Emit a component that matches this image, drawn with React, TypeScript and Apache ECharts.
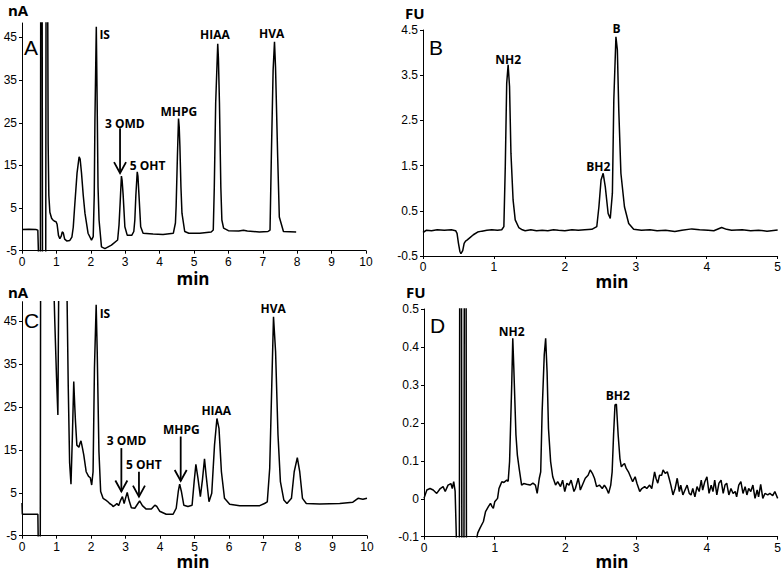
import React, { useEffect, useRef } from "react";
import * as echarts from "echarts";

// ---------- data (time in min, signal in nA / FU) ----------
const traceA: [number, number][] = [
  [0, 0], [0.2, 0.05], [0.4, 0], [0.46, -0.2], [0.47, -0.2], [0.48, -6], [0.535, -6], [0.545, 60],
  [0.585, 60], [0.595, -6], [0.69, -6], [0.7, 60], [0.745, 60], [0.76, 20], [0.78, 8], [0.81, 4],
  [0.86, 2.6], [0.9, 2.2], [0.95, 1.9], [0.99, 1.8], [1.02, 1.2], [1.06, -1.4], [1.1, -2.2], [1.14, -1.6],
  [1.17, -0.6], [1.2, -0.8], [1.24, -2.3], [1.3, -2.7], [1.39, -2.6], [1.45, -1.8], [1.49, 0.5],
  [1.53, 5.3], [1.6, 13.2], [1.66, 17.0], [1.69, 16.5], [1.73, 13.2], [1.78, 8.0], [1.83, 3.8],
  [1.92, -0.9], [2.02, -2.5], [2.07, -1.7], [2.1, 8], [2.12, 25.7], [2.16, 47.5], [2.19, 25.7],
  [2.21, 10], [2.24, 2.2], [2.31, -4.1], [2.41, -4.5], [2.6, -3.7], [2.78, -2.5], [2.82, 1],
  [2.85, 5.7], [2.89, 12.5], [2.91, 11.5], [2.94, 8.1], [2.99, 0.6], [3.06, -1.4], [3.19, -1.4],
  [3.25, -0.5], [3.28, 2.2], [3.31, 8], [3.35, 13.5], [3.37, 12.5], [3.4, 8.1], [3.45, 0.6],
  [3.52, -0.9], [3.81, -1.1], [4.1, -1.2], [4.4, -0.9], [4.46, 1.5], [4.48, 5.3], [4.52, 17.8],
  [4.55, 26.0], [4.57, 24], [4.59, 19.5], [4.62, 10], [4.65, 3.8], [4.73, -0.5], [4.85, -0.9],
  [5.17, -0.9], [5.5, -0.6], [5.56, -0.15], [5.59, 9.9], [5.63, 29.6], [5.69, 43.5], [5.71, 40],
  [5.74, 29.6], [5.78, 9.9], [5.81, 2.2], [5.86, 0.3], [6.0, -0.3], [6.3, -0.4], [6.44, -0.2],
  [6.55, -0.4], [6.9, -0.6], [7.15, -0.5], [7.21, -0.15], [7.25, 17.8], [7.3, 37.3], [7.34, 44.0],
  [7.37, 38], [7.43, 17.8], [7.48, 2.9], [7.6, -0.5], [7.97, -0.6],
];

const traceB: [number, number][] = [
  [0, 0.02], [0.05, 0.07], [0.12, 0.06], [0.2, 0.08], [0.3, 0.07], [0.4, 0.08], [0.46, 0.06],
  [0.48, 0.0], [0.5, -0.22], [0.52, -0.4], [0.535, -0.45], [0.56, -0.38], [0.58, -0.22], [0.6, -0.17],
  [0.62, -0.15], [0.65, -0.11], [0.71, -0.03], [0.77, 0.03], [0.83, 0.05], [0.9, 0.07], [0.97, 0.08],
  [1.05, 0.07], [1.11, 0.08], [1.14, 0.15], [1.16, 1.48], [1.18, 3.32], [1.2, 3.73], [1.22, 3.25],
  [1.24, 1.77], [1.27, 0.74], [1.3, 0.3], [1.35, 0.13], [1.4, 0.08], [1.44, 0.06], [1.52, 0.08],
  [1.6, 0.06], [1.68, 0.07], [1.76, 0.06], [1.84, 0.08], [1.91, 0.07], [2.0, 0.06], [2.1, 0.08],
  [2.19, 0.07], [2.28, 0.08], [2.38, 0.09], [2.45, 0.15], [2.48, 0.59], [2.51, 1.18], [2.54, 1.33],
  [2.57, 1.03], [2.61, 0.44], [2.64, 0.33], [2.67, 0.89], [2.69, 2.95], [2.72, 4.35], [2.74, 4.06],
  [2.76, 2.73], [2.79, 1.33], [2.84, 0.59], [2.9, 0.22], [2.97, 0.09], [3.08, 0.07], [3.2, 0.08],
  [3.3, 0.06], [3.42, 0.07], [3.55, 0.04], [3.65, 0.07], [3.79, 0.1], [3.9, 0.08], [4.02, 0.07],
  [4.1, 0.06], [4.21, 0.13], [4.28, 0.09], [4.35, 0.07], [4.5, 0.08], [4.62, 0.06], [4.73, 0.07],
  [4.85, 0.05], [5.0, 0.075],
];

const traceC: [number, number][] = [
  [0, 2.6], [0.01, 0], [0.46, 0], [0.47, -6], [0.53, -6], [0.54, 60], [0.9, 60], [0.95, 45],
  [1.0, 32], [1.04, 23.1], [1.07, 60], [1.29, 60], [1.34, 30], [1.38, 12], [1.42, 7.0], [1.46, 18],
  [1.5, 30.9], [1.53, 25], [1.55, 21.6], [1.59, 16.1], [1.65, 15.6], [1.68, 16.5], [1.71, 17.1],
  [1.75, 15.5], [1.79, 13.8], [1.86, 9.9], [1.93, 8.8], [1.98, 8.5], [2.02, 6.8], [2.06, 9.9],
  [2.1, 34], [2.15, 48.8], [2.18, 37.9], [2.23, 14.6], [2.28, 5.3], [2.35, 3.7], [2.43, 3.3],
  [2.49, 2.9], [2.54, 2.5], [2.6, 2.2], [2.64, 1.8], [2.7, 2.1], [2.75, 2.5], [2.8, 2.0], [2.86, 3.3],
  [2.91, 4.1], [2.96, 2.5], [3.0, 3.7], [3.05, 5.1], [3.1, 3.3], [3.17, 1.5], [3.27, 1.4], [3.36, 2.5],
  [3.41, 3.1], [3.49, 2.0], [3.6, 1.2], [3.75, 1.2], [3.85, 2.1], [3.91, 1.8], [3.99, 0.7], [4.18, 0],
  [4.38, 0], [4.47, 1.4], [4.53, 5.3], [4.57, 7.0], [4.62, 5.3], [4.69, 2.1], [4.81, 1.8], [4.93, 2.1],
  [4.99, 7.6], [5.04, 11.6], [5.1, 8.4], [5.17, 4.1], [5.23, 8.0], [5.29, 12.9], [5.34, 8.8],
  [5.42, 2.9], [5.5, 4.9], [5.58, 16.1], [5.65, 22.3], [5.71, 20], [5.78, 9.9], [5.87, 3.7],
  [6.02, 2.3], [6.31, 2.0], [6.89, 2.0], [7.03, 2.5], [7.11, 2.9], [7.18, 10.7], [7.24, 30.1],
  [7.29, 46.0], [7.35, 37.9], [7.42, 18.5], [7.49, 7.6], [7.59, 3.3], [7.68, 2.5], [7.81, 3.7],
  [7.89, 9.9], [7.98, 13.2], [8.05, 9.9], [8.13, 3.7], [8.24, 2.5], [8.63, 2.4], [9.21, 2.5],
  [9.59, 2.8], [9.74, 3.7], [9.88, 3.5], [10, 3.7],
];

const traceD: [number, number][] = [
  [0, 0.001], [0.04, 0.023], [0.085, 0.027], [0.13, 0.023], [0.18, 0.014], [0.23, 0.027],
  [0.27, 0.032], [0.3, 0.019], [0.34, 0.036], [0.38, 0.04], [0.4, 0.027], [0.42, 0.045],
  [0.44, 0.02], [0.46, -0.12], [0.5, -0.12], [0.505, 0.6], [0.53, 0.6], [0.535, -0.12],
  [0.565, -0.12], [0.57, 0.6], [0.595, 0.6], [0.6, -0.12], [0.73, -0.12], [0.76, -0.09],
  [0.79, -0.078], [0.84, -0.06], [0.87, -0.034], [0.91, -0.021], [0.94, -0.012], [0.96, -0.02],
  [0.98, -0.025], [1.0, -0.008], [1.04, 0.001], [1.06, 0.027], [1.08, 0.036], [1.1, 0.045],
  [1.13, 0.043], [1.17, 0.049], [1.19, 0.046], [1.21, 0.098], [1.24, 0.3], [1.255, 0.423],
  [1.27, 0.343], [1.3, 0.168], [1.32, 0.115], [1.345, 0.08], [1.38, 0.036], [1.41, 0.04],
  [1.45, 0.038], [1.5, 0.036], [1.54, 0.041], [1.575, 0.036], [1.6, 0.014], [1.63, 0.054],
  [1.65, 0.071], [1.67, 0.229], [1.7, 0.379], [1.72, 0.423], [1.74, 0.335], [1.76, 0.185],
  [1.79, 0.098], [1.82, 0.058], [1.86, 0.036], [1.89, 0.045], [1.93, 0.032], [1.96, 0.049],
  [1.99, 0.019], [2.02, 0.041], [2.05, 0.036], [2.08, 0.049], [2.12, 0.019], [2.14, 0.027],
  [2.18, 0.054], [2.2, 0.036], [2.21, 0.023], [2.25, 0.041], [2.28, 0.054], [2.32, 0.062],
  [2.35, 0.076], [2.38, 0.067], [2.41, 0.054], [2.44, 0.032], [2.48, 0.036], [2.52, 0.027],
  [2.55, 0.036], [2.58, 0.027], [2.61, 0.014], [2.64, 0.036], [2.66, 0.071], [2.68, 0.168],
  [2.7, 0.247], [2.72, 0.249], [2.745, 0.168], [2.77, 0.106], [2.79, 0.084], [2.81, 0.089],
  [2.835, 0.093], [2.86, 0.08], [2.89, 0.071], [2.92, 0.058], [2.95, 0.045], [2.985, 0.058],
  [3.01, 0.041], [3.05, 0.019], [3.08, 0.027], [3.12, 0.032], [3.15, 0.027], [3.19, 0.036],
  [3.22, 0.027], [3.26, 0.071], [3.28, 0.054], [3.305, 0.041], [3.33, 0.062], [3.36, 0.062],
  [3.38, 0.076], [3.41, 0.067], [3.44, 0.071], [3.465, 0.054], [3.49, 0.036], [3.52, 0.01],
  [3.55, 0.027], [3.58, 0.054], [3.61, 0.019], [3.63, 0.036], [3.66, 0.01], [3.69, 0.023],
  [3.72, 0.036], [3.75, 0.014], [3.775, 0.01], [3.8, 0.027], [3.83, 0.005], [3.86, 0.032],
  [3.89, 0.019], [3.92, 0.049], [3.94, 0.023], [3.97, 0.045], [4.0, 0.058], [4.03, 0.014],
  [4.06, 0.036], [4.085, 0.019], [4.11, 0.049], [4.14, 0.01], [4.17, 0.041], [4.2, 0.049],
  [4.23, 0.014], [4.255, 0.036], [4.28, 0.041], [4.31, 0.01], [4.34, 0.027], [4.37, 0.014],
  [4.4, 0.019], [4.42, 0.005], [4.45, 0.036], [4.48, 0.045], [4.51, 0.014], [4.54, 0.032],
  [4.565, 0.01], [4.59, 0.027], [4.62, 0.019], [4.65, 0.036], [4.68, 0.001], [4.71, 0.023],
  [4.73, 0.005], [4.76, 0.038], [4.79, 0.001], [4.82, 0.014], [4.86, 0.01], [4.89, 0.014],
  [4.93, 0.008], [4.96, 0.019], [5.0, 0.001],
];

// axis ranges
const axisX = [10, 5, 10, 5];
const axisYMin = [-5, -0.5, -5, -0.1];
const axisYMax = [48.4, 4.5, 49.5, 0.5];
const axisYInterval = [10, 1, 10, 0.1];
const yUnits = ["nA", "FU", "nA", "FU"];
const xTitle = "min";
const panelLetters = ["A", "B", "C", "D"];

// peak labels: [panel, text, t, v, align]
const peakLabels: [number, string, number, number, string][] = [
  [0, "IS", 2.25, 45.6, "left"],
  [0, "HIAA", 5.61, 45.6, "center"],
  [0, "HVA", 7.26, 46.0, "center"],
  [0, "MHPG", 4.56, 27.6, "center"],
  [0, "3 OMD", 2.99, 24.9, "center"],
  [0, "5 OHT", 3.65, 14.9, "center"],
  [1, "NH2", 1.2, 3.84, "center"],
  [1, "B", 2.73, 4.54, "center"],
  [1, "BH2", 2.47, 1.48, "center"],
  [2, "IS", 2.25, 46.8, "left"],
  [2, "HVA", 7.28, 47.8, "center"],
  [2, "HIAA", 5.63, 24.1, "center"],
  [2, "MHPG", 4.62, 19.8, "center"],
  [2, "3 OMD", 3.03, 17.1, "center"],
  [2, "5 OHT", 3.53, 11.5, "center"],
  [3, "NH2", 1.24, 0.44, "center"],
  [3, "BH2", 2.74, 0.271, "center"],
];

// arrows: [panel, t, vFrom, vTo]
const arrows: [number, number, number, number][] = [
  [0, 2.85, 23.7, 13.2],
  [2, 2.88, 15.4, 5.3],
  [2, 3.39, 9.9, 4.1],
  [2, 4.6, 18.1, 7.75],
];

const traces = [traceA, traceB, traceC, traceD];

// ---------- layout ----------
const GRIDS = [
  { left: 22, top: 23, width: 344, height: 227.7 },
  { left: 423, top: 30, width: 355, height: 226 },
  { left: 22, top: 301.7, width: 345, height: 234 },
  { left: 424, top: 309, width: 354.5, height: 227.7 },
];
const LETTER_POS = [[24, 47], [429, 47], [24, 320.5], [430, 325.5]];
const UNIT_POS = [[8, 10], [405, 12.5], [8, 292], [406, 292]];
const XTITLE_POS = [[193, 278], [612, 281], [193, 561], [612, 561]];

const TICK_FONT = "Liberation Sans, Arial, sans-serif";
const BOLD_FONT = "Open Sans, Noto Sans, sans-serif";

export default function App() {
  const ref = useRef<HTMLDivElement>(null);
  useEffect(() => {
    const chart = echarts.init(ref.current!, null, { renderer: "svg" });
    const axisLine = { show: true, lineStyle: { color: "#000", width: 1 } };
    const option: any = {
      animation: false,
      backgroundColor: "#fff",
      grid: GRIDS.map((g) => ({ ...g, containLabel: false })),
      xAxis: GRIDS.map((_, i) => ({
        type: "value",
        gridIndex: i,
        min: 0,
        max: axisX[i],
        interval: 1,
        axisLine: { ...axisLine, onZero: false },
        axisTick: { show: true, length: 3, lineStyle: { color: "#000" } },
        splitLine: { show: false },
        axisLabel: { color: "#000", fontSize: 12, fontFamily: TICK_FONT, margin: 5 },
      })),
      yAxis: GRIDS.map((_, i) => ({
        type: "value",
        gridIndex: i,
        min: axisYMin[i],
        max: axisYMax[i],
        interval: axisYInterval[i],
        axisLine: { ...axisLine, onZero: false },
        axisTick: { show: true, length: 3, lineStyle: { color: "#000" } },
        splitLine: { show: false },
        axisLabel: {
          color: "#000",
          fontSize: 12,
          fontFamily: TICK_FONT,
          margin: 5,
          showMaxLabel: i === 1 || i === 3,
        },
      })),
      series: traces.map((d, i) => ({
        type: "line",
        xAxisIndex: i,
        yAxisIndex: i,
        data: d,
        showSymbol: false,
        symbol: "none",
        clip: true,
        lineStyle: { color: "#000", width: 1.5 },
      })),
    };
    chart.setOption(option);

    const graphics: any[] = [];
    GRIDS.forEach((_, i) => {
      graphics.push({
        type: "text",
        x: LETTER_POS[i][0],
        y: LETTER_POS[i][1],
        style: {
          text: panelLetters[i],
          font: "21px " + TICK_FONT,
          fill: "#000",
          align: "left",
          verticalAlign: "middle",
        },
      });
      graphics.push({
        type: "text",
        x: UNIT_POS[i][0],
        y: UNIT_POS[i][1],
        style: {
          text: yUnits[i],
          font: "bold 15px " + BOLD_FONT,
          fill: "#000",
          align: "left",
          verticalAlign: "middle",
        },
      });
      graphics.push({
        type: "text",
        x: XTITLE_POS[i][0],
        y: XTITLE_POS[i][1],
        style: {
          text: xTitle,
          font: "bold 17px " + BOLD_FONT,
          fill: "#000",
          align: "center",
          verticalAlign: "middle",
        },
      });
    });
    peakLabels.forEach(([p, text, t, v, align]) => {
      const pt = chart.convertToPixel({ gridIndex: p }, [t, v]) as number[];
      graphics.push({
        type: "text",
        x: pt[0],
        y: pt[1],
        style: {
          text,
          font: "bold 12px " + BOLD_FONT,
          fill: "#000",
          align,
          verticalAlign: "middle",
        },
      });
    });
    arrows.forEach(([p, t, v1, v2]) => {
      const a = chart.convertToPixel({ gridIndex: p }, [t, v1]) as number[];
      const b = chart.convertToPixel({ gridIndex: p }, [t, v2]) as number[];
      graphics.push({
        type: "line",
        shape: { x1: a[0], y1: a[1], x2: b[0], y2: b[1] },
        style: { stroke: "#000", lineWidth: 1.8 },
      });
      graphics.push({
        type: "polyline",
        shape: { points: [[b[0] - 6, b[1] - 11], [b[0], b[1]], [b[0] + 6, b[1] - 11]] },
        style: { stroke: "#000", lineWidth: 1.8, fill: "none" },
      });
    });
    chart.setOption({ graphic: graphics });
    return () => chart.dispose();
  }, []);
  return (
    <div
      ref={ref}
      style={{ position: "fixed", left: 0, top: 0, width: 784, height: 573 }}
    />
  );
}
